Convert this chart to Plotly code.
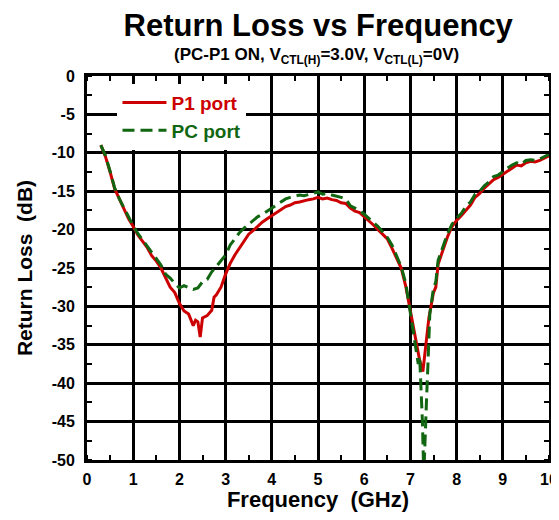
import plotly.graph_objects as go

# ---------------------------------------------------------------------------
# Data (frequency in GHz, return loss in dB)
# ---------------------------------------------------------------------------
freq_p1 = [0.30, 0.40, 0.50, 0.60, 0.70, 0.80, 0.90, 1.00, 1.10, 1.20, 1.30, 1.40,
           1.50, 1.60, 1.70, 1.80, 1.90, 2.00, 2.10, 2.20, 2.30, 2.35, 2.40, 2.45,
           2.50, 2.60, 2.70, 2.75, 2.80, 2.90, 3.00, 3.10, 3.20, 3.30, 3.40, 3.50,
           3.60, 3.70, 3.80, 3.90, 4.00, 4.10, 4.20, 4.30, 4.40, 4.50, 4.60, 4.70,
           4.80, 4.90, 5.00, 5.10, 5.20, 5.30, 5.40, 5.50, 5.60, 5.70, 5.80, 5.90,
           6.00, 6.10, 6.20, 6.30, 6.40, 6.50, 6.60, 6.70, 6.80, 6.90, 7.00, 7.10,
           7.20, 7.27, 7.33, 7.40, 7.50, 7.55, 7.60, 7.70, 7.80, 7.90, 8.00, 8.10,
           8.20, 8.30, 8.40, 8.50, 8.60, 8.70, 8.80, 8.90, 9.00, 9.10, 9.20, 9.30,
           9.40, 9.50, 9.60, 9.70, 9.80, 9.90, 10.00]
rl_p1 = [-9.0, -10.5, -12.5, -14.7, -16.0, -17.3, -18.6, -19.6, -20.7, -21.5, -22.3, -23.4,
         -24.1, -25.0, -26.2, -27.5, -28.2, -29.6, -30.6, -31.0, -32.5, -31.8, -32.0, -34.0,
         -31.5, -31.2, -30.5, -28.8, -28.5, -27.5, -25.8, -24.4, -23.3, -22.4, -21.4, -20.6,
         -20.1, -19.5, -19.0, -18.6, -18.2, -17.7, -17.4, -17.0, -16.8, -16.5, -16.4, -16.2,
         -16.1, -16.0, -15.8, -16.0, -15.9, -16.1, -16.2, -16.5, -16.6, -17.2, -17.6, -17.8,
         -18.3, -18.8, -19.4, -20.0, -20.6, -21.2, -22.4, -23.6, -25.0, -27.4, -30.5, -34.0,
         -37.0, -38.5, -35.5, -31.5, -28.2, -27.5, -24.5, -22.6, -21.0, -19.6, -18.8, -18.2,
         -17.5, -16.8, -15.8, -15.3, -14.6, -14.1, -13.5, -13.2, -12.8, -12.3, -11.9, -11.6,
         -11.7, -11.3, -11.1, -11.2, -11.0, -10.7, -10.4]

freq_pc = [0.30, 0.40, 0.50, 0.60, 0.70, 0.80, 0.90, 1.00, 1.10, 1.20, 1.30, 1.40,
           1.50, 1.60, 1.70, 1.80, 1.90, 2.00, 2.10, 2.20, 2.30, 2.40, 2.50, 2.60,
           2.70, 2.80, 2.90, 3.00, 3.10, 3.20, 3.30, 3.40, 3.50, 3.60, 3.70, 3.80,
           3.90, 4.00, 4.10, 4.20, 4.30, 4.40, 4.50, 4.60, 4.70, 4.80, 4.90, 5.00,
           5.10, 5.20, 5.30, 5.40, 5.50, 5.60, 5.70, 5.80, 5.90, 6.00, 6.10, 6.20,
           6.30, 6.40, 6.50, 6.60, 6.70, 6.80, 6.90, 7.00, 7.10, 7.17, 7.20, 7.23,
           7.26, 7.29, 7.32, 7.35, 7.38, 7.42, 7.50, 7.55, 7.60, 7.70, 7.80, 7.90,
           8.00, 8.10, 8.20, 8.30, 8.40, 8.50, 8.60, 8.70, 8.80, 8.90, 9.00, 9.10,
           9.20, 9.30, 9.40, 9.50, 9.60, 9.70, 9.80, 9.90, 10.00]
rl_pc = [-9.0, -10.4, -12.4, -14.6, -16.0, -17.2, -18.5, -19.5, -20.5, -21.3, -22.1, -23.0,
         -23.8, -24.6, -25.8, -26.3, -27.0, -27.6, -27.3, -27.5, -27.8, -27.6, -26.8, -26.5,
         -25.5, -24.8, -24.1, -23.3, -22.0, -21.2, -20.4, -19.8, -19.3, -18.7, -18.3, -18.0,
         -17.6, -17.2, -16.7, -16.3, -16.0, -15.8, -15.6, -15.5, -15.6, -15.4, -15.2, -15.1,
         -15.4, -15.3, -15.5, -15.6, -15.8, -16.0, -16.9, -17.2, -17.5, -18.0, -18.5, -19.0,
         -19.6, -20.3, -21.0, -22.0, -23.3, -24.8, -27.0, -30.8, -34.5, -37.5, -36.5, -40.0,
         -45.0, -52.0, -46.0, -42.0, -37.5, -31.0, -27.6, -26.8, -24.0, -22.2, -20.6, -19.3,
         -18.5, -17.9, -17.0, -16.4, -15.4, -15.0, -14.3, -13.8, -13.1, -12.9, -12.4, -12.0,
         -11.6, -11.3, -11.5, -11.0, -10.9, -11.0, -10.8, -10.5, -10.2]

x_ticks = [0, 1, 2, 3, 4, 5, 6, 7, 8, 9, 10]
y_ticks = [0, -5, -10, -15, -20, -25, -30, -35, -40, -45, -50]
y_labels = ["0", "-5", "-10", "-15", "-20", "-25", "-30", "-35", "-40", "-45", "-50"]

RED = "#cc0000"
GREEN = "#116611"
FONT = "Liberation Sans, Arial, sans-serif"

fig = go.Figure()
fig.add_trace(go.Scatter(
    x=freq_p1, y=rl_p1, mode="lines",
    line=dict(color=RED, width=3),
    name=f"<span style='color:{RED}'>P1 port</span>",
))
fig.add_trace(go.Scatter(
    x=freq_pc, y=rl_pc, mode="lines",
    line=dict(color=GREEN, width=3, dash="12px,6px"),
    name=f"<span style='color:{GREEN}'>PC port</span>",
))

axis_common = dict(
    showline=True, linecolor="black", linewidth=3, mirror="allticks",
    showgrid=True, gridcolor="black", gridwidth=2.5,
    zeroline=False, ticks="", automargin=False,
    tickfont=dict(family=FONT, size=16, color="black", weight="bold"),
)

fig.update_xaxes(
    range=[0, 10], tickvals=x_ticks, ticktext=[str(v) for v in x_ticks],
    ticklabelstandoff=3,
    minor=dict(dtick=0.5, ticks="inside", ticklen=5, tickwidth=2,
               tickcolor="black", showgrid=False),
    title=dict(text="Frequency  (GHz)", standoff=2,
               font=dict(family=FONT, size=22, color="black", weight="bold")),
    **axis_common,
)
fig.update_yaxes(
    range=[-50, 0], tickvals=y_ticks, ticktext=y_labels,
    ticklabelstandoff=6,
    minor=dict(dtick=2.5, ticks="inside", ticklen=5, tickwidth=2,
               tickcolor="black", showgrid=False),
    title=dict(text="Return Loss  (dB)", standoff=14,
               font=dict(family=FONT, size=21, color="black", weight="bold")),
    **axis_common,
)

# the page body adds an 8px margin, so the figure is sized to fit inside it
fig.update_layout(
    width=551, height=504,
    margin=dict(l=79, r=10, t=68, b=52, autoexpand=False),
    paper_bgcolor="white", plot_bgcolor="white",
    title=dict(text="Return Loss vs Frequency", x=0.563, xanchor="center",
               y=0.965, yanchor="middle",
               font=dict(family=FONT, size=31, color="black", weight="bold")),
    showlegend=True,
    legend=dict(x=0.066, y=0.98, xanchor="left", yanchor="top",
                bgcolor="white", borderwidth=0, itemwidth=44,
                tracegroupgap=0,
                font=dict(family=FONT, size=19, weight="bold")),
    annotations=[dict(
        text="(PC-P1 ON, V<sub>CTL(H)</sub>=3.0V, V<sub>CTL(L)</sub>=0V)",
        xref="paper", yref="paper", x=0.496, y=1.0, yshift=20,
        xanchor="center", yanchor="middle", showarrow=False,
        font=dict(family=FONT, size=17, color="black", weight="bold"),
    )],
)

fig.write_html("out.html")
